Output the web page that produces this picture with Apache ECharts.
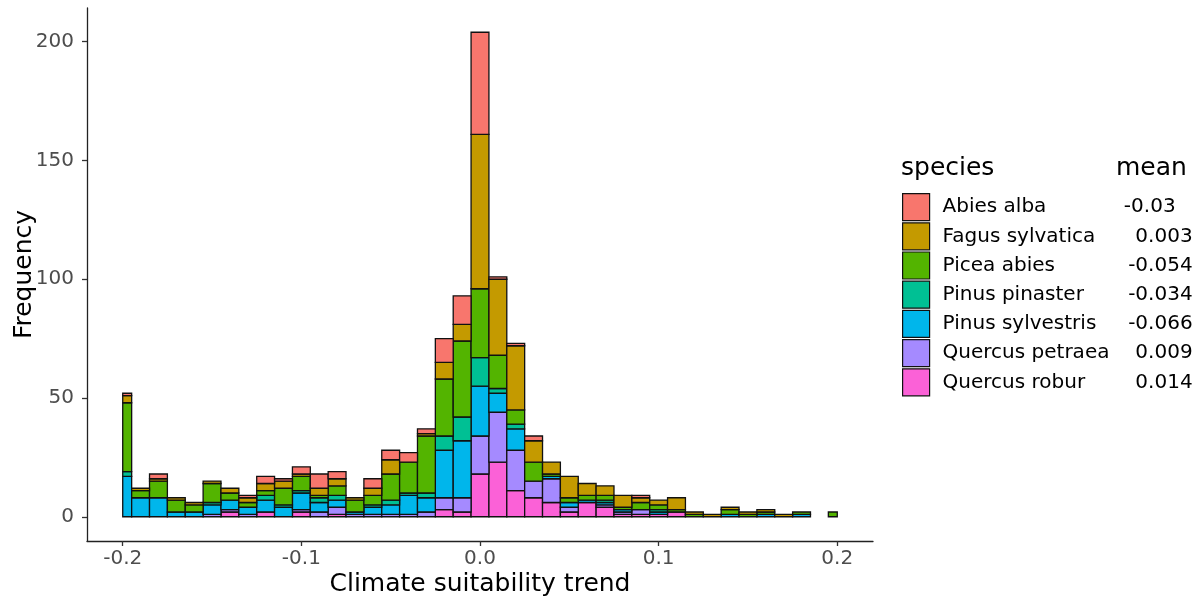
<!DOCTYPE html>
<html>
<head>
<meta charset="utf-8">
<script src="https://cdn.jsdelivr.net/npm/echarts@6/dist/echarts.min.js"></script>
<style>
  html, body { margin: 0; padding: 0; background: #fff; }
  #chart { width: 1203px; height: 598px; }
</style>
</head>
<body>
<div id="chart"></div>
<script>
// bin centres -0.20 .. 0.20, step 0.01 (41 bins)
const binCenters = [-20, -19, -18, -17, -16, -15, -14, -13, -12, -11, -10, -9, -8, -7, -6, -5, -4, -3, -2, -1,
  0, 1, 2, 3, 4, 5, 6, 7, 8, 9, 10, 11, 12, 13, 14, 15, 16, 17, 18, 19, 20].map((v) => v / 100);

const species = ['Abies alba', 'Fagus sylvatica', 'Picea abies', 'Pinus pinaster', 'Pinus sylvestris', 'Quercus petraea', 'Quercus robur'];
const means = ['-0.03', '0.003', '-0.054', '-0.034', '-0.066', '0.009', '0.014'];
const colors = ['#F8766D', '#C49A00', '#53B400', '#00C094', '#00B6EB', '#A58AFF', '#FB61D7'];

const abiesAlba = [1, 0, 2, 0, 0, 0, 0, 1, 3, 1, 3, 6, 3, 0, 4, 4, 4, 2, 10, 12, 43, 1, 1, 2, 0, 0, 0, 0, 0, 1, 0, 0, 0, 0, 0, 0, 0, 0, 0, 0, 0];
const fagusSylvatica = [3, 1, 1, 1, 1, 1, 2, 2, 3, 3, 1, 3, 3, 1, 3, 6, 0, 1, 7, 7, 65, 32, 27, 9, 5, 9, 5, 4, 5, 2, 2, 5, 1, 1, 1, 1, 1, 1, 0, 0, 0];
const piceaAbies = [29, 3, 7, 5, 3, 8, 3, 2, 2, 7, 6, 1, 4, 5, 4, 11, 13, 24, 24, 32, 29, 14, 6, 8, 1, 2, 2, 2, 1, 3, 2, 1, 1, 0, 2, 1, 1, 0, 1, 0, 2];
const pinusPinaster = [2, 0, 0, 0, 0, 1, 0, 0, 2, 1, 1, 2, 2, 0, 1, 2, 1, 2, 6, 10, 12, 2, 2, 0, 0, 0, 0, 1, 0, 0, 1, 0, 0, 0, 0, 0, 0, 0, 0, 0, 0];
const pinusSylvestris = [17, 8, 8, 2, 2, 4, 4, 3, 5, 4, 7, 4, 3, 1, 3, 4, 8, 6, 20, 24, 21, 8, 9, 0, 1, 2, 1, 1, 1, 0, 1, 0, 0, 0, 1, 0, 1, 0, 1, 0, 0];
const quercusPetraea = [0, 0, 0, 0, 0, 1, 1, 1, 0, 0, 1, 2, 3, 1, 1, 1, 1, 2, 5, 6, 16, 21, 17, 7, 10, 2, 0, 1, 1, 2, 0, 0, 0, 0, 0, 0, 0, 0, 0, 0, 0];
const quercusRobur = [0, 0, 0, 0, 0, 0, 2, 0, 2, 0, 2, 0, 1, 0, 0, 0, 0, 0, 3, 2, 18, 23, 11, 8, 6, 2, 6, 4, 1, 1, 1, 2, 0, 0, 0, 0, 0, 0, 0, 0, 0];

const counts = [abiesAlba, fagusSylvatica, piceaAbies, pinusPinaster, pinusSylvestris, quercusPetraea, quercusRobur];
const xTicks = [-0.2, -0.1, 0, 0.1, 0.2];
const yTicks = [0, 50, 100, 150, 200];

const FONT = 'DejaVu Sans';
const binWidth = 0.01;

// stack from the bottom: Quercus robur first, Abies alba on top
const base = binCenters.map(() => 0);
const series = [];
for (let s = species.length - 1; s >= 0; s--) {
  const data = [];
  counts[s].forEach((n, i) => {
    if (n > 0) {
      const c = binCenters[i];
      const x0 = Math.max(-0.2, c - binWidth / 2);
      const x1 = Math.min(0.2, c + binWidth / 2);
      data.push([x0, x1, base[i], base[i] + n]);
    }
    base[i] += n;
  });
  series.push({
    name: species[s],
    type: 'custom',
    itemStyle: { color: colors[s], borderColor: '#000', borderWidth: 1 },
    encode: { x: [0, 1], y: [2, 3] },
    data,
    renderItem: (params, api) => {
      const p0 = api.coord([api.value(0), api.value(3)]);
      const p1 = api.coord([api.value(1), api.value(2)]);
      return {
        type: 'rect',
        shape: { x: p0[0], y: p0[1], width: p1[0] - p0[0], height: p1[1] - p0[1] },
        style: { fill: colors[s], stroke: '#111', lineWidth: 1.3 },
      };
    },
  });
}

const chart = echarts.init(document.getElementById('chart'));
chart.setOption({
  animation: false,
  textStyle: { fontFamily: FONT },
  title: [{
    text: 'species',
    left: 901,
    top: 156,
    padding: 0,
    textStyle: { fontFamily: FONT, fontSize: 25, fontWeight: 'normal', color: '#000' },
  }, {
    text: 'mean',
    left: 1116,
    top: 156,
    padding: 0,
    textStyle: { fontFamily: FONT, fontSize: 25, fontWeight: 'normal', color: '#000' },
  }],
  grid: { left: 87, right: 330, top: 8, bottom: 57, containLabel: false, outerBoundsMode: 'none' },
  legend: {
    data: species,
    orient: 'vertical',
    left: 902,
    top: 193,
    padding: 0,
    itemWidth: 27,
    itemHeight: 27,
    itemGap: 1,
    icon: 'rect',
    selectedMode: false,
    itemStyle: { borderColor: '#111', borderWidth: 1.2 },
    formatter: (name) => {
      const m = means[species.indexOf(name)];
      return `{n|${name}}{${m === '-0.03' ? 'm2' : 'm'}|${m}}`;
    },
    textStyle: {
      fontFamily: FONT,
      fontSize: 20,
      color: '#000',
      rich: {
        n: { fontFamily: FONT, fontSize: 20, color: '#000', width: 185, padding: [0, 0, 0, 8] },
        m: { fontFamily: FONT, fontSize: 20, color: '#000', width: 65, align: 'right' },
        m2: { fontFamily: FONT, fontSize: 20, color: '#000', width: 48, align: 'right' },
      },
    },
  },
  xAxis: {
    type: 'value',
    min: -0.22,
    max: 0.22,
    name: 'Climate suitability trend',
    nameLocation: 'middle',
    nameGap: 31,
    nameMoveOverlap: false,
    nameTextStyle: { fontFamily: FONT, fontSize: 25, color: '#000' },
    axisLine: { onZero: false, lineStyle: { color: '#222', width: 1.3 } },
    axisTick: { customValues: xTicks, length: 5, lineStyle: { color: '#333', width: 1.3 } },
    axisLabel: {
      customValues: xTicks,
      formatter: (v) => v.toFixed(1),
      fontFamily: FONT,
      fontSize: 20,
      color: '#4D4D4D',
      margin: 8,
    },
    splitLine: { show: false },
  },
  yAxis: {
    type: 'value',
    min: -10.2,
    max: 214.2,
    name: 'Frequency',
    nameLocation: 'middle',
    nameGap: 50,
    nameMoveOverlap: false,
    nameTextStyle: { fontFamily: FONT, fontSize: 25, color: '#000' },
    axisLine: { show: true, onZero: false, lineStyle: { color: '#222', width: 1.3 } },
    axisTick: { show: true, customValues: yTicks, length: 5, lineStyle: { color: '#333', width: 1.3 } },
    axisLabel: {
      customValues: yTicks,
      fontFamily: FONT,
      fontSize: 20,
      color: '#4D4D4D',
      margin: 13,
    },
    splitLine: { show: false },
  },
  series,
});
</script>
</body>
</html>
